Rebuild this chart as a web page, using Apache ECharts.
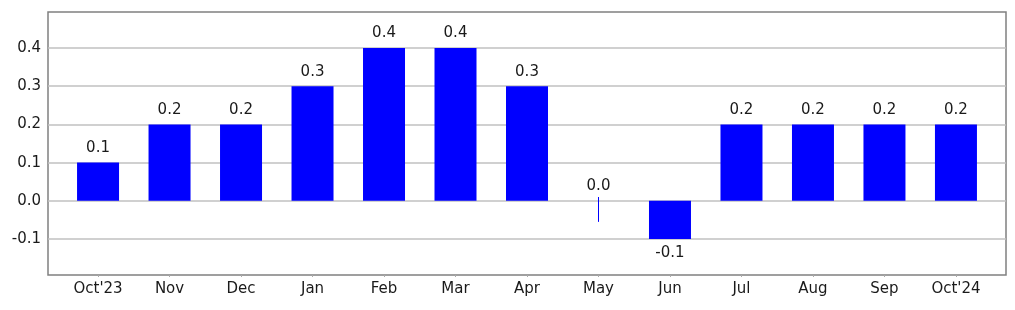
<!DOCTYPE html>
<html>
<head>
<meta charset="utf-8">
<script src="https://cdn.jsdelivr.net/npm/echarts@6/dist/echarts.min.js"></script>
<style>html,body{margin:0;padding:0;background:#fff}#c{width:1015px;height:310px}</style>
</head>
<body>
<div id="c"></div>
<script>
const categories = ["Oct'23","Nov","Dec","Jan","Feb","Mar","Apr","May","Jun","Jul","Aug","Sep","Oct'24"];
const values = [0.1,0.2,0.2,0.3,0.4,0.4,0.3,0.0,-0.1,0.2,0.2,0.2,0.2];
const yTicks = [-0.1,0.0,0.1,0.2,0.3,0.4];
const yMin = -0.194, yMax = 0.494;

const font = 'DejaVu Sans';
const txt = '#1a1a1a';
const xIdx = categories.map((c,i)=>i);
const chart = echarts.init(document.getElementById('c'), null, {renderer:'canvas'});
chart.setOption({
  animation:false,
  grid:{left:48,right:9,top:12,bottom:35,show:true,borderColor:'#808080',borderWidth:1.5,backgroundColor:'#fff'},
  xAxis:{type:'value',min:-0.7,max:12.7,
    axisLine:{show:false,onZero:false},splitLine:{show:false},
    axisTick:{show:true,length:2,lineStyle:{color:'#aaa'},customValues:xIdx},
    axisLabel:{customValues:xIdx,formatter:v=>categories[Math.round(v)],fontFamily:font,fontSize:15,color:txt,margin:7}},
  yAxis:{type:'value',min:yMin,max:yMax,
    axisLine:{show:false,onZero:false},splitLine:{show:false},axisTick:{show:false},
    axisLabel:{customValues:yTicks,formatter:v=>v.toFixed(1),fontFamily:font,fontSize:15,color:txt,margin:7}},
  series:[
    {type:'line',data:[],z:1,silent:true,
      markLine:{silent:true,z:1,symbol:'none',label:{show:false},
        lineStyle:{color:'#c0c0c0',width:1.5,type:'solid'},
        data:yTicks.map(v=>({yAxis:v}))}},
    {type:'bar',z:10,barWidth:42,
      data:values.map((v,i)=>({value:[i,v],label:{position:v<0?'bottom':'top'}})),
      itemStyle:{color:'#0000ff'},
      label:{show:true,fontFamily:font,fontSize:15,color:txt,distance:7,
        formatter:p=>p.value[1].toFixed(1)}},
    {type:'custom',z:11,silent:true,
      data:values.map((v,i)=>[i,v]).filter(d=>d[1]===0),
      renderItem:(params,api)=>{
        const x=api.value(0);
        const p1=api.coord([x,0.01]), p2=api.coord([x,-0.055]);
        const px=Math.round(p1[0])+0.5;
        return {type:'line',shape:{x1:px,y1:p1[1],x2:px,y2:p2[1]},style:{stroke:'#0000ff',lineWidth:1}};
      }}
  ]
});
</script>
</body>
</html>
